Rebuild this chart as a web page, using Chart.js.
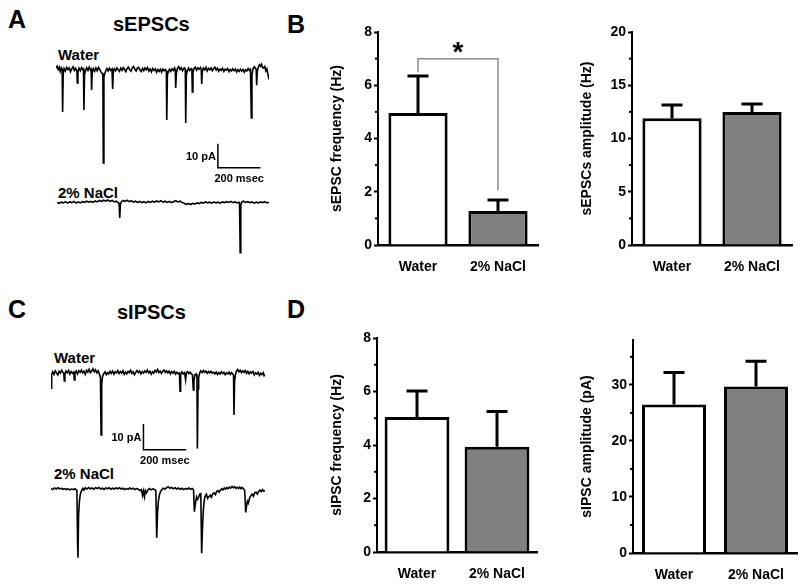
<!DOCTYPE html>
<html>
<head>
<meta charset="utf-8">
<script src="https://cdn.jsdelivr.net/npm/chart.js@4.4.1/dist/chart.umd.min.js"></script>
<style>
  body { margin: 0; background: #fff; }
  #fig { position: relative; width: 800px; height: 584px; overflow: hidden; background: #fff;
         font-family: 'Liberation Sans', Arial, sans-serif; font-weight: bold; color: #000; }
  #fig canvas { position: absolute; }
  .lbl { position: absolute; line-height: 1; white-space: nowrap; }
</style>
</head>
<body>
<div id="fig">
  <div class="lbl" style="left:8px;top:7px;font-size:25px">A</div>
  <div class="lbl" style="left:287px;top:12px;font-size:25px">B</div>
  <div class="lbl" style="left:8px;top:297px;font-size:25px">C</div>
  <div class="lbl" style="left:287px;top:297px;font-size:25px">D</div>
  <div class="lbl" style="left:113px;top:14px;font-size:20px">sEPSCs</div>
  <div class="lbl" style="left:117px;top:302px;font-size:20px">sIPSCs</div>
  <div class="lbl" style="left:58px;top:47px;font-size:15px">Water</div>
  <div class="lbl" style="left:58px;top:185px;font-size:15px">2% NaCl</div>
  <div class="lbl" style="left:54px;top:350px;font-size:15px">Water</div>
  <div class="lbl" style="left:54px;top:466px;font-size:15px">2% NaCl</div>

  <canvas id="traceAWater" width="213" height="130" style="left:56px;top:58px"></canvas>
  <canvas id="traceANacl" width="212" height="65" style="left:57px;top:193px"></canvas>
  <canvas id="traceCWater" width="214" height="110" style="left:51px;top:360px"></canvas>
  <canvas id="traceCNacl" width="214" height="84" style="left:51px;top:478px"></canvas>

  <canvas id="epscFreq" width="250" height="290" style="left:300px;top:0px"></canvas>
  <canvas id="epscAmp" width="250" height="290" style="left:550px;top:0px"></canvas>
  <canvas id="ipscFreq" width="250" height="294" style="left:300px;top:290px"></canvas>
  <canvas id="ipscAmp" width="250" height="294" style="left:550px;top:290px"></canvas>
</div>
<script>
// groups and bar data (mean, SEM)
const groups = ['Water', '2% NaCl'];
const barFill = ['#ffffff', '#808080'];

const sepscFreq = [4.96, 1.28];
const sepscFreqSem = [1.39, 0.41];
const sepscAmp = [11.9, 12.5];
const sepscAmpSem = [1.25, 0.75];
const sipscFreq = [5.05, 3.93];
const sipscFreqSem = [0.97, 1.32];
const sipscAmp = [26.5, 29.7];
const sipscAmpSem = [5.7, 4.5];

// tick values
const freqTicks = [0, 2, 4, 6, 8];
const freqMinor = [1, 3, 5, 7];
const epscAmpTicks = [0, 5, 10, 15, 20];
const epscAmpMinor = [2.5, 7.5, 12.5, 17.5];
const ipscAmpTicks = [0, 10, 20, 30];
const ipscAmpMinor = [5, 15, 25, 35];

// example current traces: [time ms, current pA]
const traceAWater = [[0,0.8],[5,1.5],[10,0.2],[15,1.2],[20,-0.6],[25,0.9],[29,0.3],[31,-17.5],[34,-1.5],[38,0.6],[44,-0.4],[50,1.1],[56,0.2],[62,0.9],[68,-0.7],[74,0.5],[80,1.3],[86,-0.2],[92,0.7],[98,-0.5],[100,-5.4],[103,-0.6],[108,0.8],[114,-0.3],[120,1.0],[126,0.1],[129,0.4],[131,-16.7],[134,-2.0],[138,-0.4],[144,0.9],[150,-0.2],[156,1.2],[162,0.0],[165,0.3],[167,-8.3],[170,-1.0],[175,0.6],[181,-0.5],[187,0.8],[193,-0.3],[199,1.1],[205,0.2],[211,-0.8],[217,-1.5],[220,-1.2],[222,-38.8],[225,-3.0],[228,-1.8],[233,-0.5],[239,0.6],[245,-0.4],[251,0.7],[257,-0.2],[263,0.4],[266,-7.9],[269,-1.0],[274,0.5],[280,-0.3],[286,0.9],[292,0.1],[298,-0.6],[304,0.8],[310,-0.1],[316,1.0],[322,0.2],[328,-0.7],[334,0.6],[340,1.2],[346,0.1],[352,-0.5],[358,0.9],[364,1.5],[370,0.3],[376,-0.4],[382,0.8],[388,1.1],[394,0.0],[400,-0.6],[406,0.7],[412,-0.3],[418,0.9],[424,0.1],[430,1.0],[436,-0.5],[442,0.4],[448,-0.8],[454,0.6],[460,-0.2],[466,0.5],[472,-1.0],[478,0.2],[484,-0.6],[490,0.3],[496,-0.9],[502,0.4],[508,-0.3],[514,0.2],[518,-0.4],[520,-20.8],[523,-2.0],[527,-0.8],[533,0.3],[539,-0.6],[545,0.5],[551,-0.2],[557,0.8],[560,0.0],[562,-7.5],[565,-1.5],[570,0.6],[576,1.4],[582,0.2],[588,1.0],[594,-0.3],[600,0.7],[604,0.9],[607,0.2],[609,-22.1],[612,-2.0],[616,-0.5],[622,0.8],[628,-0.2],[634,0.6],[638,0.1],[640,-9.2],[643,-1.2],[648,0.7],[654,1.2],[660,-0.1],[666,0.9],[672,0.3],[678,1.0],[682,0.2],[684,-5.8],[687,-0.5],[692,0.8],[698,0.0],[704,1.1],[710,-0.4],[716,0.7],[722,0.1],[728,0.9],[734,-0.3],[740,0.6],[746,1.2],[752,0.0],[758,0.8],[764,-0.5],[770,0.4],[776,-0.2],[782,0.7],[788,-0.6],[794,0.3],[800,-0.1],[806,0.6],[812,-0.7],[818,0.2],[824,-0.4],[830,0.5],[836,-0.3],[842,0.4],[848,-0.8],[854,0.1],[860,-0.6],[866,0.3],[872,-0.5],[878,0.2],[884,-0.9],[890,0.1],[896,-0.4],[902,0.6],[908,-0.2],[913,0.3],[917,-20.0],[920,-2.0],[925,0.5],[931,1.4],[937,0.6],[940,0.2],[942,-6.3],[945,-0.5],[950,1.2],[955,2.2],[960,1.6],[965,2.4],[970,1.0],[975,0.8],[980,1.5],[985,-0.3],[990,0.5],[995,-1.8],[1000,-4.0]];

const traceANacl = [[0,0.1],[10,-0.3],[20,0.2],[30,-0.1],[40,0.4],[50,-0.2],[60,0.3],[70,0.0],[80,0.5],[90,-0.2],[100,0.3],[110,-0.1],[120,0.4],[130,0.1],[140,0.6],[150,0.2],[160,0.5],[170,0.1],[180,0.7],[190,0.3],[200,0.9],[210,0.5],[220,1.0],[230,0.6],[240,1.1],[250,0.5],[260,0.9],[270,0.3],[280,0.6],[288,0.0],[293,-0.3],[296,-6.4],[299,-0.8],[304,0.4],[312,0.9],[320,0.5],[330,1.0],[340,0.4],[350,0.8],[360,0.2],[370,0.6],[380,0.1],[390,0.5],[400,0.0],[410,0.4],[420,-0.1],[430,0.5],[440,0.1],[450,0.6],[460,0.2],[470,0.7],[480,0.3],[490,0.8],[500,0.2],[510,0.6],[520,0.1],[530,0.5],[540,0.0],[550,0.4],[560,0.8],[570,0.3],[580,0.6],[590,0.1],[600,-0.3],[610,-0.7],[620,-0.4],[630,-0.8],[640,-0.3],[650,-0.6],[660,-0.1],[670,-0.4],[680,0.1],[690,-0.2],[700,0.3],[710,-0.1],[720,0.2],[730,-0.2],[740,0.3],[750,-0.1],[760,0.2],[770,-0.2],[780,0.3],[790,0.0],[800,0.4],[810,0.1],[820,0.5],[830,0.0],[840,0.3],[850,-0.1],[858,0.2],[861,-0.2],[864,-20.8],[867,-1.0],[872,0.3],[880,0.6],[890,0.1],[900,0.4],[910,0.0],[920,0.3],[930,-0.2],[940,0.2],[950,-0.1],[960,0.3],[970,0.0],[980,0.4],[990,-0.1],[1000,0.2]];

const traceCWater = [[0,-5.8],[3,-0.5],[8,0.6],[14,-0.4],[20,1.0],[26,0.2],[32,-0.6],[38,0.8],[44,0.1],[50,1.2],[56,0.3],[60,0.0],[62,-3.0],[65,-0.3],[70,0.9],[76,0.2],[82,1.1],[88,-0.3],[94,0.7],[100,0.0],[106,0.5],[109,-2.6],[112,0.1],[118,0.9],[124,-0.2],[130,1.0],[136,0.4],[142,1.3],[148,0.2],[154,0.8],[160,-0.4],[166,1.2],[172,0.5],[178,1.6],[184,0.3],[190,0.9],[196,1.8],[202,0.6],[208,1.4],[214,0.2],[220,1.0],[226,-0.3],[231,-1.5],[234,-24.0],[237,-4.0],[241,-1.2],[246,-0.2],[252,0.6],[258,-0.5],[264,0.3],[270,-0.2],[276,0.8],[282,0.0],[288,0.9],[294,-0.3],[300,0.6],[306,0.2],[312,1.1],[318,-0.1],[324,0.7],[330,0.1],[336,1.0],[342,-0.4],[348,0.5],[354,-0.2],[360,0.8],[366,0.3],[372,1.2],[378,0.0],[384,0.6],[390,-0.5],[396,0.4],[402,1.1],[408,0.3],[414,0.9],[420,-0.2],[426,0.7],[432,0.1],[438,1.0],[444,0.4],[450,1.3],[456,0.2],[462,0.8],[468,-0.3],[474,0.6],[480,0.1],[486,1.1],[492,0.5],[498,1.5],[504,0.3],[510,0.9],[516,0.0],[522,0.8],[528,1.3],[534,0.4],[540,1.0],[546,0.2],[552,0.9],[558,-0.2],[564,0.7],[570,0.1],[576,0.8],[582,-0.3],[588,0.4],[594,-0.1],[600,0.2],[603,-6.9],[606,-0.5],[612,0.6],[618,-0.2],[624,0.3],[629,-2.5],[632,0.0],[638,0.7],[644,-0.1],[650,0.5],[656,-0.3],[661,-0.5],[665,-6.5],[668,-3.0],[672,-0.6],[678,-0.2],[682,-1.5],[684,-29.2],[687,-6.0],[690,-1.5],[695,0.2],[700,1.0],[706,0.3],[712,1.1],[718,0.4],[724,0.9],[730,0.0],[736,0.7],[742,0.2],[748,0.8],[754,0.1],[760,0.4],[766,-0.2],[772,0.5],[778,-0.4],[784,0.3],[790,-0.3],[796,0.6],[802,-0.1],[808,0.4],[814,-0.5],[820,0.2],[826,-0.2],[832,0.5],[838,-0.4],[844,0.3],[850,-0.3],[853,-0.8],[855,-16.2],[858,-3.0],[862,-0.5],[866,0.8],[872,1.5],[878,0.6],[884,1.2],[890,0.3],[896,1.0],[902,0.4],[908,1.1],[914,0.0],[920,0.8],[926,-0.2],[932,0.6],[938,0.1],[944,0.7],[950,-0.6],[956,0.2],[962,-0.3],[968,0.4],[974,-0.8],[980,0.1],[986,-0.5],[992,0.3],[996,-0.9],[1000,-0.4]];

const traceCNacl = [[0,0.3],[8,-0.2],[16,0.4],[24,0.0],[32,0.5],[40,0.1],[48,0.3],[56,-0.1],[64,0.2],[72,-0.2],[80,0.1],[88,-0.3],[96,0.0],[104,-0.2],[112,0.1],[118,-0.3],[121,-0.6],[124,-20.0],[126,-26.7],[129,-10.0],[133,-4.5],[137,-2.0],[142,-0.8],[148,0.2],[154,-0.4],[160,0.5],[168,0.0],[176,0.6],[184,0.1],[192,0.4],[200,-0.1],[208,0.5],[216,0.2],[224,0.6],[232,0.0],[240,0.3],[248,-0.2],[256,0.4],[264,0.1],[272,0.5],[280,-0.1],[288,0.3],[296,0.0],[304,0.4],[312,0.1],[320,0.5],[328,0.0],[336,0.3],[344,-0.2],[352,0.2],[360,-0.1],[368,0.4],[376,0.0],[384,0.3],[392,-0.2],[400,0.2],[408,-0.1],[416,-0.6],[422,-0.2],[428,-2.5],[432,-0.8],[437,-3.0],[441,-0.6],[446,-1.5],[452,-0.4],[460,0.2],[468,-0.3],[476,0.1],[484,-0.2],[490,-0.6],[494,-19.0],[498,-9.0],[502,-4.5],[507,-2.2],[512,-0.9],[518,-0.3],[524,0.3],[532,0.0],[540,0.5],[548,0.9],[556,0.3],[564,0.6],[572,0.1],[580,0.5],[588,0.0],[596,0.4],[604,-0.1],[612,0.3],[620,-0.2],[628,0.2],[636,0.0],[644,0.4],[652,-0.1],[660,0.2],[666,-0.3],[670,-8.8],[675,-5.5],[680,-3.0],[685,-4.0],[690,-3.2],[695,-2.0],[700,-1.8],[704,-25.0],[708,-15.0],[712,-8.0],[716,-4.5],[720,-2.8],[726,-2.0],[732,-3.6],[738,-3.0],[744,-2.4],[750,-3.2],[756,-1.8],[762,-1.5],[768,-2.2],[774,-1.0],[780,-0.6],[786,-1.2],[792,-0.4],[798,0.1],[804,-0.3],[810,0.4],[816,0.0],[822,0.6],[828,0.2],[834,0.8],[840,0.4],[846,1.0],[852,0.5],[858,0.9],[864,0.3],[870,0.7],[876,0.2],[882,0.8],[888,0.1],[894,0.6],[900,0.0],[905,-0.5],[910,-9.1],[914,-6.5],[918,-4.8],[922,-5.5],[928,-3.5],[934,-2.6],[940,-2.0],[946,-2.8],[952,-1.4],[958,-1.2],[964,-2.0],[970,-0.9],[976,-0.4],[982,-1.0],[988,-0.2],[994,-0.8],[1000,-0.5]];

Chart.defaults.font.family = "'Liberation Sans', Arial, sans-serif";
Chart.defaults.color = '#000';

// scale bar (10 pA / 200 msec) drawn in trace units
const scaleBar = {
    id: 'scaleBar',
    afterDraw(chart, args, o) {
        if (!o || !o.show) return;
        const {ctx, scales: {x, y}} = chart;
        const x0 = x.getPixelForValue(o.t);
        const x1 = x.getPixelForValue(o.t + o.ms);
        const yTop = y.getPixelForValue(o.i);
        const yBot = y.getPixelForValue(o.i - o.pA);
        ctx.save();
        ctx.strokeStyle = '#000';
        ctx.lineWidth = 1.5;
        ctx.beginPath();
        ctx.moveTo(x0, yTop);
        ctx.lineTo(x0, yBot);
        ctx.lineTo(x1, yBot);
        ctx.stroke();
        ctx.fillStyle = '#000';
        ctx.font = "bold 11px 'Liberation Sans', Arial, sans-serif";
        ctx.textAlign = 'right';
        ctx.textBaseline = 'middle';
        ctx.fillText(o.pA + ' pA', x0 - 2, (yTop + yBot) / 2 + 1);
        ctx.textAlign = 'center';
        ctx.fillText(o.ms + ' msec', (x0 + x1) / 2, yBot + 11);
        ctx.restore();
    }
};

// upward SEM error bars
const errorBars = {
    id: 'errorBars',
    afterDatasetsDraw(chart, args, o) {
        const {ctx} = chart;
        const y = chart.scales.y;
        const ds = chart.data.datasets[0];
        ctx.save();
        ctx.strokeStyle = '#000';
        ctx.lineWidth = 3;
        chart.getDatasetMeta(0).data.forEach((bar, i) => {
            const top = y.getPixelForValue(ds.data[i] + o.sem[i]);
            ctx.beginPath();
            ctx.moveTo(bar.x, bar.y);
            ctx.lineTo(bar.x, top);
            ctx.moveTo(bar.x - 10.5, top);
            ctx.lineTo(bar.x + 10.5, top);
            ctx.stroke();
        });
        ctx.restore();
    }
};

// short unlabelled ticks on the y axis
const minorTicks = {
    id: 'minorTicks',
    afterDraw(chart, args, o) {
        const {ctx, chartArea} = chart;
        const y = chart.scales.y;
        ctx.save();
        ctx.strokeStyle = '#000';
        ctx.lineWidth = 2;
        o.values.forEach(v => {
            const py = y.getPixelForValue(v);
            ctx.beginPath();
            ctx.moveTo(chartArea.left - 3, py);
            ctx.lineTo(chartArea.left, py);
            ctx.stroke();
        });
        ctx.restore();
    }
};

// significance bracket with star
const sigBracket = {
    id: 'sigBracket',
    afterDraw(chart, args, o) {
        if (!o || o.y === undefined) return;
        const {ctx} = chart;
        const y = chart.scales.y;
        const bars = chart.getDatasetMeta(0).data;
        const xl = bars[0].x, xr = bars[1].x;
        ctx.save();
        ctx.strokeStyle = '#8a8a8a';
        ctx.lineWidth = 1.5;
        ctx.beginPath();
        ctx.moveTo(xl, y.getPixelForValue(o.leftEnd));
        ctx.lineTo(xl, y.getPixelForValue(o.y));
        ctx.lineTo(xr, y.getPixelForValue(o.y));
        ctx.lineTo(xr, y.getPixelForValue(o.rightEnd));
        ctx.stroke();
        ctx.fillStyle = '#000';
        ctx.font = "bold 28px 'Liberation Sans', Arial, sans-serif";
        ctx.textAlign = 'center';
        ctx.textBaseline = 'alphabetic';
        ctx.fillText(o.text, (xl + xr) / 2, y.getPixelForValue(o.starAt) + 0.57 * 28);
        ctx.restore();
    }
};

function traceChart(id, pairs, yMin, yMax, bar) {
    return new Chart(document.getElementById(id), {
        type: 'line',
        data: {
            datasets: [{
                data: pairs.map(p => ({x: p[0], y: p[1]})),
                borderColor: '#000',
                borderWidth: 1.6,
                pointRadius: 0,
                tension: 0
            }]
        },
        options: {
            responsive: false,
            animation: false,
            events: [],
            layout: {padding: 0},
            scales: {
                x: {type: 'linear', display: false, min: 0, max: 1000},
                y: {display: false, min: yMin, max: yMax}
            },
            plugins: {
                legend: {display: false},
                tooltip: {enabled: false},
                scaleBar: bar || {show: false}
            }
        },
        plugins: [scaleBar]
    });
}

function barChart(id, cfg) {
    return new Chart(document.getElementById(id), {
        type: 'bar',
        data: {
            labels: groups,
            datasets: [{
                data: cfg.values,
                backgroundColor: barFill,
                borderColor: '#000',
                borderWidth: 3,
                borderSkipped: 'start',
                barPercentage: cfg.barPct,
                categoryPercentage: 1
            }]
        },
        options: {
            responsive: false,
            animation: false,
            events: [],
            layout: {padding: {top: cfg.top, right: cfg.right, left: 0, bottom: 0}},
            scales: {
                x: {
                    grid: {display: false, drawTicks: false},
                    border: {color: '#000', width: 2.5},
                    ticks: {color: '#000', padding: 14, font: {size: 14, weight: 'bold'}},
                    afterFit: s => { s.height = cfg.xHeight; }
                },
                y: {
                    min: 0,
                    max: cfg.yMax,
                    grid: {drawOnChartArea: false, color: '#000', tickLength: 4, tickWidth: 2},
                    border: {color: '#000', width: 2},
                    ticks: {color: '#000', padding: 2, font: {size: 14, weight: 'bold'}},
                    afterBuildTicks: s => { s.ticks = cfg.major.map(v => ({value: v})); },
                    afterFit: s => { s.width = cfg.axisLeft; },
                    title: {
                        display: true,
                        text: cfg.title,
                        color: '#000',
                        font: {size: 14, weight: 'bold'},
                        padding: {top: 29, bottom: 0}
                    }
                }
            },
            plugins: {
                legend: {display: false},
                tooltip: {enabled: false},
                errorBars: {sem: cfg.sem},
                minorTicks: {values: cfg.minor},
                sigBracket: cfg.bracket || false
            }
        },
        plugins: [errorBars, minorTicks, sigBracket]
    });
}

traceChart('traceAWater', traceAWater, -49.2, 5, {show: true, t: 760, i: -30.8, ms: 200, pA: 10});
traceChart('traceANacl', traceANacl, -23.0, 4.0);
traceChart('traceCWater', traceCWater, -37.6, 5.2, {show: true, t: 432, i: -19.7, ms: 200, pA: 10});
traceChart('traceCNacl', traceCNacl, -28.4, 4.3);

barChart('epscFreq', {
    values: sepscFreq, sem: sepscFreqSem, yMax: 8, major: freqTicks, minor: freqMinor,
    title: 'sEPSC frequency (Hz)', top: 32, right: 12, axisLeft: 78, xHeight: 45, barPct: 0.74,
    bracket: {y: 7.0, leftEnd: 6.5, rightEnd: 2.05, starAt: 7.52, text: '*'}
});
barChart('epscAmp', {
    values: sepscAmp, sem: sepscAmpSem, yMax: 20, major: epscAmpTicks, minor: epscAmpMinor,
    title: 'sEPSCs amplitude (Hz)', top: 32, right: 8, axisLeft: 82, xHeight: 45, barPct: 0.74
});
barChart('ipscFreq', {
    values: sipscFreq, sem: sipscFreqSem, yMax: 8, major: freqTicks, minor: freqMinor,
    title: 'sIPSC frequency (Hz)', top: 48, right: 13, axisLeft: 77, xHeight: 32, barPct: 0.81
});
barChart('ipscAmp', {
    values: sipscAmp, sem: sipscAmpSem, yMax: 38, major: ipscAmpTicks, minor: ipscAmpMinor,
    title: 'sIPSC amplitude (pA)', top: 50, right: 3, axisLeft: 83, xHeight: 31, barPct: 0.78
});
</script>
</body>
</html>
